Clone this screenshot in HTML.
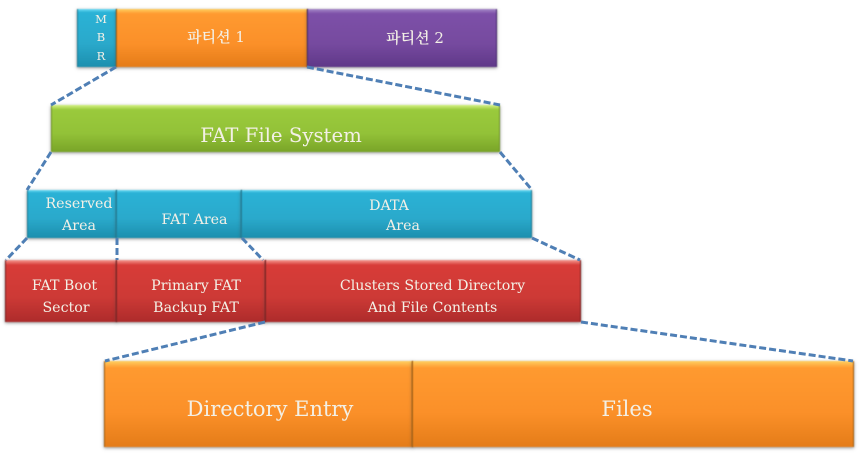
<!DOCTYPE html>
<html><head><meta charset="utf-8">
<style>
html,body{margin:0;padding:0;background:#fff}
body{width:859px;height:453px;position:relative;overflow:hidden;font-family:"DejaVu Serif","Liberation Serif",serif;color:#f3f0e6}
.b{position:absolute;box-sizing:border-box;box-shadow:0 1px 3px rgba(70,70,70,.6);filter:blur(.45px)}
.t{position:absolute;white-space:nowrap;text-align:center;transform:translateX(-50%);line-height:1;filter:blur(.35px)}
.k{font-family:"Noto Serif CJK SC","NanumGothic",serif;font-weight:600}
.bl{background:linear-gradient(#6fdcf5 0,#2ab2d6 6%,#2aa9cb 60%,#1c8fae 100%);border-left:1.5px solid #1c7d98;border-right:1.5px solid #1c7d98}
.or{background:linear-gradient(#ffd060 0,#ff9a30 8%,#fb9029 60%,#e47c18 100%);border-left:1.5px solid #a8610f;border-right:1.5px solid #a8610f}
.pu{background:linear-gradient(#a68ac8 0,#7d50a8 8%,#764a9f 60%,#5f3888 100%);border-left:1.5px solid #4a2b72;border-right:1.5px solid #4a2b72}
.gr{background:linear-gradient(#d5f284 0,#9aca3c 10%,#93c238 60%,#79a428 100%);border-left:1px solid #6f9526;border-right:1px solid #6f9526}
.re{background:linear-gradient(#f49a92 0,#d83c38 8%,#cd3a36 60%,#ad2b2b 100%);border-left:1.5px solid #7e1f1f;border-right:1.5px solid #7e1f1f}
svg{position:absolute;left:0;top:0;filter:blur(.35px)}
</style></head><body>
<div class="b bl" style="left:77px;top:9px;width:40px;height:58px"></div>
<div class="b or" style="left:116px;top:9px;width:192px;height:58px"></div>
<div class="b pu" style="left:307px;top:9px;width:190px;height:58px"></div>
<div class="b gr" style="left:51px;top:105px;width:449px;height:47px"></div>
<div class="b bl" style="left:27px;top:190px;width:90px;height:48px"></div>
<div class="b bl" style="left:116px;top:190px;width:126px;height:48px"></div>
<div class="b bl" style="left:241px;top:190px;width:291px;height:48px"></div>
<div class="b re" style="left:5px;top:260px;width:112px;height:62px"></div>
<div class="b re" style="left:116px;top:260px;width:150px;height:62px"></div>
<div class="b re" style="left:265px;top:260px;width:316px;height:62px"></div>
<div class="b or" style="left:104px;top:361px;width:309px;height:86px"></div>
<div class="b or" style="left:412px;top:361px;width:442px;height:86px"></div>
<svg width="859" height="453" fill="none" stroke="#4f7fb5" stroke-width="3" stroke-dasharray="7 3">
<line x1="116" y1="67" x2="51" y2="105"/>
<line x1="307" y1="67" x2="500" y2="105"/>
<line x1="51" y1="152" x2="27" y2="190"/>
<line x1="500" y1="152" x2="532" y2="190"/>
<line x1="27" y1="238" x2="6" y2="260"/>
<line x1="117" y1="238" x2="117" y2="260"/>
<line x1="242" y1="238" x2="263" y2="260"/>
<line x1="532" y1="238" x2="580" y2="260"/>
<line x1="265" y1="322" x2="105" y2="361"/>
<line x1="581" y1="322" x2="853" y2="361"/>
</svg>
<div class="t" style="left:101px;top:14px;font-size:11.5px">M</div>
<div class="t" style="left:101px;top:32px;font-size:11.5px">B</div>
<div class="t" style="left:101px;top:51px;font-size:11.5px">R</div>
<div class="t" style="left:216px;top:29px;font-size:15px"><span class="k">파티션</span> 1</div>
<div class="t" style="left:415px;top:30px;font-size:15px"><span class="k">파티션</span> 2</div>
<div class="t" style="left:281px;top:126px;font-size:19.7px">FAT File System</div>
<div class="t" style="left:79px;top:197px;font-size:14.2px">Reserved</div>
<div class="t" style="left:79px;top:219px;font-size:14.2px">Area</div>
<div class="t" style="left:194.5px;top:213px;font-size:14.2px">FAT Area</div>
<div class="t" style="left:389px;top:199px;font-size:14.2px">DATA</div>
<div class="t" style="left:403px;top:219px;font-size:14.2px">Area</div>
<div class="t" style="left:64.5px;top:279px;font-size:14.2px">FAT Boot</div>
<div class="t" style="left:66px;top:301px;font-size:14.2px">Sector</div>
<div class="t" style="left:196px;top:279px;font-size:14.2px">Primary FAT</div>
<div class="t" style="left:196px;top:301px;font-size:14.2px">Backup FAT</div>
<div class="t" style="left:432.5px;top:279px;font-size:14.2px">Clusters Stored Directory</div>
<div class="t" style="left:432.5px;top:301px;font-size:14.2px">And File Contents</div>
<div class="t" style="left:270px;top:399px;font-size:21px">Directory Entry</div>
<div class="t" style="left:627px;top:399px;font-size:21px">Files</div>
</body></html>
